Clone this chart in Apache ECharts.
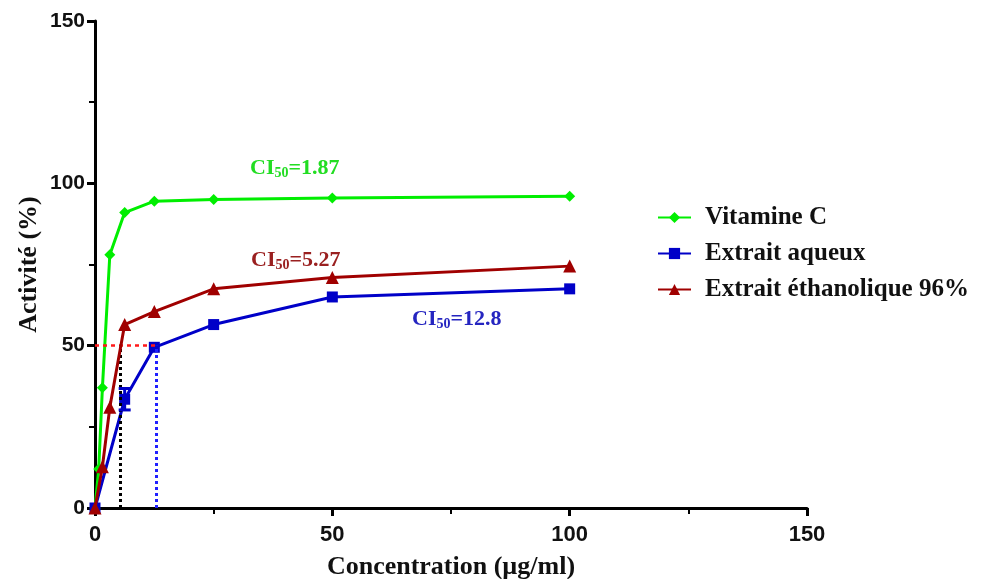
<!DOCTYPE html>
<html>
<head>
<meta charset="utf-8">
<script src="https://cdn.jsdelivr.net/npm/echarts@6/dist/echarts.min.js"></script>
<style>html,body{margin:0;padding:0;background:#fff}#c{width:996px;height:579px}</style>
</head>
<body>
<div id="c"></div>
<script>
// Data
var vitCX = [0, 0.78, 1.56, 3.125, 6.25, 12.5, 25, 50, 100];
var vitCY = [0, 12, 37, 78, 91, 94.5, 95, 95.5, 96];
var aqX = [0, 6.25, 12.5, 25, 50, 100];
var aqY = [0, 33.5, 49.5, 56.5, 65, 67.5];
var aqErr = [0, 3.3, 0, 0, 0, 0];
var ethX = [0, 1.56, 3.125, 6.25, 12.5, 25, 50, 100];
var ethY = [0, 12.7, 31, 56.5, 60.5, 67.5, 71, 74.5];
var seriesNames = ['Vitamine C', 'Extrait aqueux', 'Extrait éthanolique 96%'];
var ic50 = [1.87, 12.8, 5.27];
var xTicks = [0, 50, 100, 150];
var yTicks = [0, 50, 100, 150];

function pairs(xs, ys){ return xs.map(function(x,i){ return [x, ys[i]]; }); }

var green = '#00ee00', blue = '#0000c8', red = '#a00000';
var serif = '"Liberation Serif","DejaVu Serif",serif';
var sans = '"Liberation Sans",Arial,sans-serif';

var chart = echarts.init(document.getElementById('c'));

var errData = aqX.map(function(x,i){ return [x, aqY[i]-aqErr[i], aqY[i]+aqErr[i]]; }).filter(function(d,i){ return aqErr[i] > 0; });

function ciText(v){ return '{a|CI}{s|50}{a|=' + v + '}'; }
function ciRich(col){
  return {a: {fontFamily: serif, fontWeight: 'bold', fontSize: 22, fill: col},
          s: {fontFamily: serif, fontWeight: 'bold', fontSize: 14, fill: col, verticalAlign: 'bottom', padding: [10,0,0,0]}};
}

var option = {
  animation: false,
  grid: {left: 95, right: 189, top: 21, bottom: 71, containLabel: false, outerBoundsMode: 'none'},
  xAxis: {
    type: 'value', min: xTicks[0], max: xTicks[xTicks.length-1], interval: 50,
    name: 'Concentration (µg/ml)', nameLocation: 'middle', nameGap: 46, nameMoveOverlap: false,
    nameTextStyle: {fontFamily: serif, fontWeight: 'bold', fontSize: 26, color: '#111'},
    axisLine: {lineStyle: {color: '#000', width: 3}},
    axisTick: {length: 8, lineStyle: {color: '#000', width: 3}},
    minorTick: {show: true, splitNumber: 2, length: 6, lineStyle: {color: '#000', width: 2}},
    axisLabel: {fontFamily: sans, fontWeight: 'bold', fontSize: 22, color: '#111', margin: 16},
    splitLine: {show: false}
  },
  yAxis: {
    type: 'value', min: yTicks[0], max: yTicks[yTicks.length-1], interval: 50,
    name: 'Activité (%)', nameLocation: 'middle', nameGap: 53, nameMoveOverlap: false,
    nameTextStyle: {fontFamily: serif, fontWeight: 'bold', fontSize: 26, color: '#111'},
    axisLine: {lineStyle: {color: '#000', width: 3}},
    axisTick: {length: 8, lineStyle: {color: '#000', width: 3}},
    minorTick: {show: true, splitNumber: 2, length: 6, lineStyle: {color: '#000', width: 2}},
    axisLabel: {fontFamily: sans, fontWeight: 'bold', fontSize: 21, color: '#111', margin: 10},
    splitLine: {show: false}
  },
  legend: {
    orient: 'vertical', left: 652, top: 200, itemGap: 11, itemWidth: 33, itemHeight: 14,
    data: seriesNames,
    textStyle: {fontFamily: serif, fontWeight: 'bold', fontSize: 25, color: '#111', padding: [0,0,0,9]}
  },
  series: [
    {
      name: seriesNames[0], type: 'line', data: pairs(vitCX, vitCY), color: green,
      symbol: 'diamond', symbolSize: 11, lineStyle: {width: 3, color: green}, itemStyle: {color: green},
      z: 3
    },
    {
      name: seriesNames[1], type: 'line', data: pairs(aqX, aqY), color: blue,
      symbol: 'rect', symbolSize: 11, lineStyle: {width: 3, color: blue}, itemStyle: {color: blue},
      z: 4,
      markLine: {
        silent: true, symbol: 'none', label: {show: false},
        lineStyle: {type: 'dotted', width: 3},
        data: [
          [{coord: [0, 50], lineStyle: {color: '#ff1a1a', type: [4, 4], width: 2.5}}, {coord: [ic50[1], 50]}],
          [{coord: [ic50[2], 0], lineStyle: {color: '#000', type: [3, 3], width: 3}}, {coord: [ic50[2], 50]}],
          [{coord: [ic50[1], 0], lineStyle: {color: '#2020ff', type: [3, 3], width: 3}}, {coord: [ic50[1], 50]}]
        ]
      }
    },
    {
      name: seriesNames[2], type: 'line', data: pairs(ethX, ethY), color: red,
      symbol: 'triangle', symbolSize: 13, lineStyle: {width: 3, color: red}, itemStyle: {color: red},
      z: 5
    },
    {
      name: 'err', type: 'custom', z: 6,
      renderItem: function(params, api){
        var x = api.value(0);
        var lo = api.coord([x, api.value(1)]);
        var hi = api.coord([x, api.value(2)]);
        var hw = 6;
        return {type: 'group', children: [
          {type: 'line', shape: {x1: lo[0], y1: lo[1], x2: hi[0], y2: hi[1]}, style: {stroke: blue, lineWidth: 3}},
          {type: 'line', shape: {x1: lo[0]-hw, y1: lo[1], x2: lo[0]+hw, y2: lo[1]}, style: {stroke: blue, lineWidth: 3}},
          {type: 'line', shape: {x1: hi[0]-hw, y1: hi[1], x2: hi[0]+hw, y2: hi[1]}, style: {stroke: blue, lineWidth: 3}}
        ]};
      },
      data: errData
    }
  ],
  graphic: [
    {type: 'text', left: 250, top: 157, style: {text: ciText('1.87'), rich: ciRich('#22dd22')}},
    {type: 'text', left: 251, top: 249, style: {text: ciText('5.27'), rich: ciRich('#9a2020')}},
    {type: 'text', left: 412, top: 308, style: {text: ciText('12.8'), rich: ciRich('#2525c0')}}
  ]
};
chart.setOption(option);
</script>
</body>
</html>
